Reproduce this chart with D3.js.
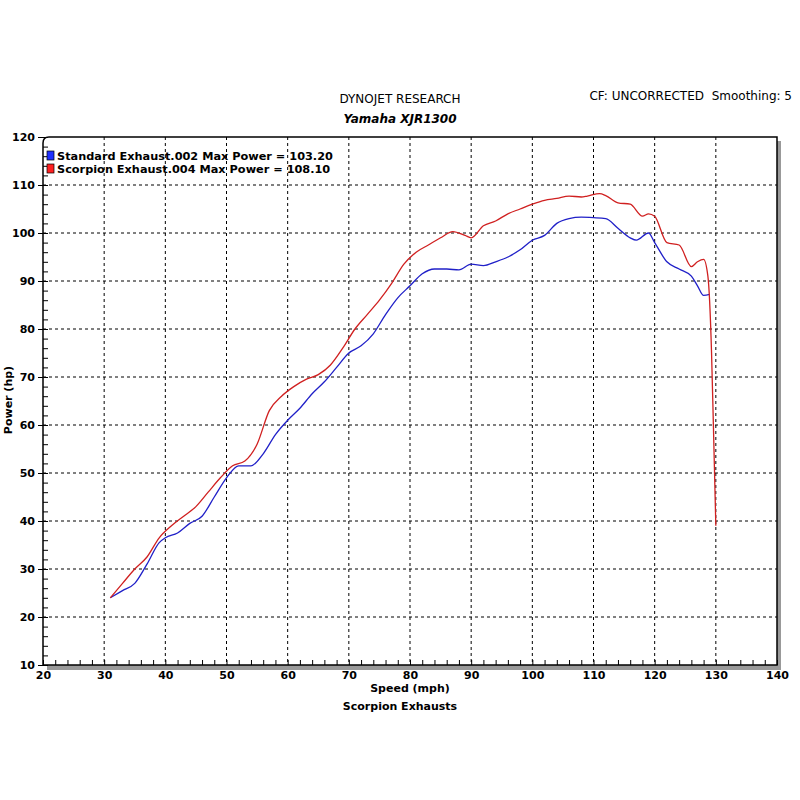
<!DOCTYPE html><html><head><meta charset="utf-8"><script src="https://d3js.org/d3.v7.min.js"></script>
<style>body{margin:0;background:#fff}text{font-family:"DejaVu Sans",Verdana,sans-serif;white-space:pre}</style></head><body><svg id="c" width="800" height="800"></svg><script>
const xTicks=[20,30,40,50,60,70,80,90,100,110,120,130,140];
const yTicks=[10,20,30,40,50,60,70,80,90,100,110,120];
const stdX=[31,33,35,37,39,40,42,44,46,48,50,52,54,56,58,60,62,64,66,68,70,72,74,76,78,80,82,84,86,88,90,92,94,96,98,100,102,104,106,108,110,112,114,116,117,119,120,122,124,126,127,128,129];
const stdY=[24,25.5,27,31,35.5,36.5,37.5,39.5,41,45,49,51.5,51.5,54,58,61,63.5,66.5,69,72,75,76.5,79,83,86.5,89,91.5,92.5,92.5,92.3,93.5,93.2,94,95,96.5,98.5,99.5,102,103,103.3,103.2,103,101,99,98.5,100,98,94,92.5,91,89,87,87.2];
const scoX=[31,33,35,37,39,41,43,45,47,49,51,53,55,57,59,61,63,65,67,69,71,73,75,77,79,81,83,85,87,89,90,92,94,96,98,100,102,104,106,108,109,111,112,114,116,118,119,120,122,124,126,127,128,128.7,129.3,129.6,130];
const scoY=[24,27,30,32.5,36.5,39,41,43,46,49,51.5,52.5,56,63,66,68,69.5,70.5,72.5,76,80,83,86,89.5,93.5,96,97.5,99,100.3,99.5,99,101.5,102.5,104,105,106,106.8,107.2,107.7,107.5,107.7,108.2,107.8,106.3,106,103.5,104,103.5,98,97.5,93,94,94.5,91,75,60,39];
const svg=d3.select("#c");
const x=d3.scaleLinear().domain([20,140]).range([43,777]);
const y=d3.scaleLinear().domain([10,120]).range([665,137]);
svg.append("rect").attr("x",47).attr("y",665).attr("width",730).attr("height",5).attr("fill","#999");
svg.append("rect").attr("x",777).attr("y",141).attr("width",4).attr("height",529).attr("fill","#999");
svg.append("g").selectAll("line").data(xTicks.slice(1,-1)).join("line").attr("x1",d=>x(d)).attr("x2",d=>x(d)).attr("y1",137).attr("y2",665).attr("stroke","#000").attr("stroke-dasharray","3,3");
svg.append("g").selectAll("line").data(yTicks.slice(1,-1)).join("line").attr("y1",d=>y(d)).attr("y2",d=>y(d)).attr("x1",43).attr("x2",777).attr("stroke","#000").attr("stroke-dasharray","3,3");
svg.append("path").attr("d","M43,665 L43,143 Q43,137 49,137 L777,137 L777,665 Z").attr("fill","none").attr("stroke","#000").attr("stroke-width",1.5);
svg.append("g").attr("transform","translate(0,665)").call(d3.axisBottom(x).ticks(60).tickSize(-5).tickFormat("")).call(g=>g.select(".domain").remove());
svg.append("g").attr("transform","translate(43,0)").call(d3.axisLeft(y).ticks(55).tickSize(-5).tickFormat("")).call(g=>g.select(".domain").remove());
svg.append("g").attr("transform","translate(43,0)").call(d3.axisLeft(y).tickValues(yTicks).tickSize(5).tickPadding(3)).call(g=>g.select(".domain").remove()).selectAll("text").attr("font-size",11).attr("font-weight","bold");
svg.append("g").attr("transform","translate(0,665)").call(d3.axisBottom(x).tickValues(xTicks).tickSize(0).tickPadding(6)).call(g=>g.select(".domain").remove()).selectAll("text").attr("font-size",11).attr("font-weight","bold");
const line=d3.line().curve(d3.curveMonotoneX).x(d=>x(d[0])).y(d=>y(d[1]));
svg.append("path").attr("d",line(stdX.map((v,i)=>[v,stdY[i]]))).attr("fill","none").attr("stroke","#2020c8").attr("stroke-width",1.3);
svg.append("path").attr("d",line(scoX.map((v,i)=>[v,scoY[i]]))).attr("fill","none").attr("stroke","#d02020").attr("stroke-width",1.3);
[["Standard Exhaust.002 Max Power = 103.20","#2030ff"],["Scorpion Exhaust.004 Max Power = 108.10","#ff2020"]].forEach((l,i)=>{
 svg.append("rect").attr("x",47).attr("y",151+i*13).attr("width",7).attr("height",9).attr("fill",l[1]).attr("stroke","#000").attr("stroke-width",0.7);
 svg.append("text").attr("x",57).attr("y",160+i*13).attr("font-size",11.3).attr("font-weight","bold").text(l[0]);
});
svg.append("text").attr("x",400).attr("y",103).attr("text-anchor","middle").attr("font-size",12).text("DYNOJET RESEARCH");
svg.append("text").attr("x",400).attr("y",123).attr("text-anchor","middle").attr("font-size",12).attr("font-weight","bold").attr("font-style","italic").text("Yamaha XJR1300");
svg.append("text").attr("x",792).attr("y",100).attr("text-anchor","end").attr("font-size",12).text("CF: UNCORRECTED  Smoothing: 5");
svg.append("text").attr("x",410).attr("y",692).attr("text-anchor","middle").attr("font-size",11).attr("font-weight","bold").text("Speed (mph)");
svg.append("text").attr("x",400).attr("y",710).attr("text-anchor","middle").attr("font-size",11).attr("font-weight","bold").text("Scorpion Exhausts");
svg.append("text").attr("transform","translate(12,400) rotate(-90)").attr("text-anchor","middle").attr("font-size",11).attr("font-weight","bold").text("Power (hp)");
</script></body></html>
